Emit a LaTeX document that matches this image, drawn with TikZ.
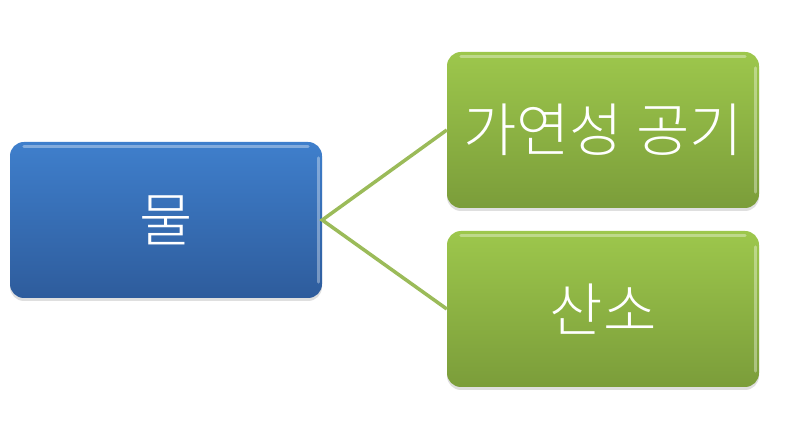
\documentclass[tikz,border=0pt]{standalone}
\usepackage{fontspec}
\newfontfamily\kr{Noto Sans CJK KR Light}
\usetikzlibrary{shadows}
\definecolor{bluetop}{HTML}{3F7FCC}
\definecolor{bluebot}{HTML}{2E5C9C}
\definecolor{greentop}{HTML}{9DC74C}
\definecolor{greenbot}{HTML}{7B9D3A}
\definecolor{linegreen}{HTML}{9BBB59}
\tikzset{
  boxbase/.style={rounded corners=14pt, minimum width=312pt, minimum height=156pt,
    inner sep=0pt, text=white, font=\kr\fontsize{58}{64}\selectfont,
    drop shadow={shadow xshift=0pt, shadow yshift=-3pt, opacity=0.25}},
  bluebox/.style={boxbase, top color=bluetop, bottom color=bluebot},
  greenbox/.style={boxbase, top color=greentop, bottom color=greenbot},
  conn/.style={draw=linegreen, line width=3.5pt},
  gloss/.style={draw=white, draw opacity=0.35, line width=3pt, line cap=round}
}
\begin{document}
\begin{tikzpicture}[x=1pt,y=-1pt]
\useasboundingbox (0,0) rectangle (804,438);
\node[bluebox] (water) at (166,220) {물};
\node[greenbox] (hydro) at (603,130) {가연성 공기};
\node[greenbox] (oxy) at (603,309) {산소};
\foreach \n in {water,hydro,oxy}{
  \draw[gloss] ([xshift=14pt,yshift=-5pt]\n.north west) -- ([xshift=-14pt,yshift=-5pt]\n.north east);
  \draw[gloss] ([xshift=-4pt,yshift=-16pt]\n.north east) -- ([xshift=-4pt,yshift=16pt]\n.south east);
}
\draw[conn] (hydro.west) -- (water.east) -- (oxy.west);
\end{tikzpicture}
\end{document}
